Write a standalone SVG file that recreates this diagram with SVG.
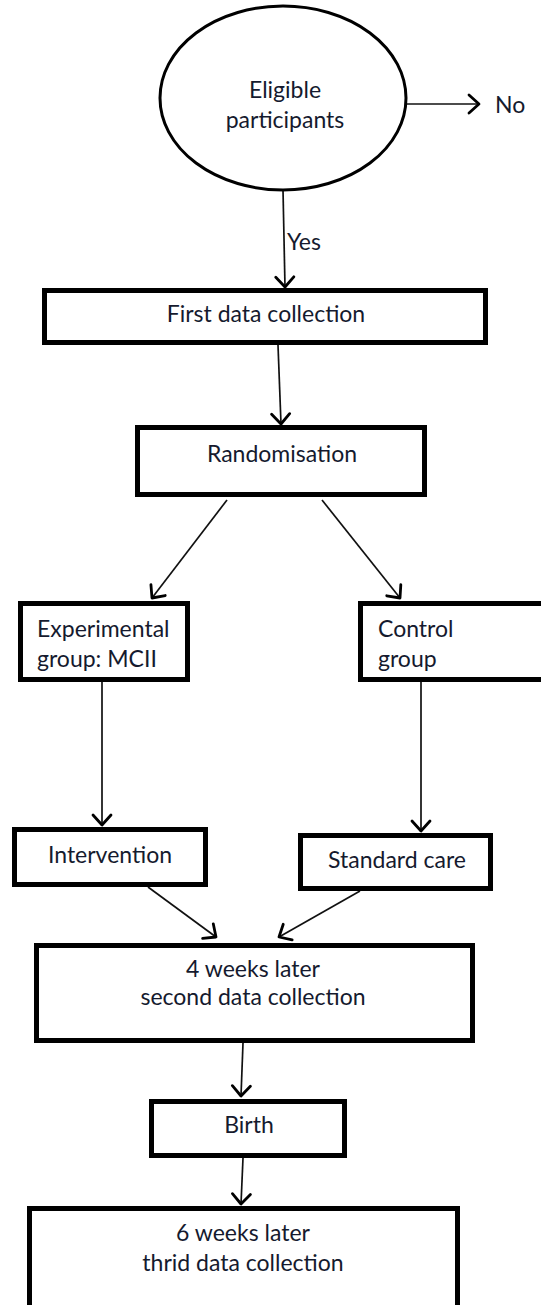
<svg xmlns="http://www.w3.org/2000/svg" width="541" height="1305" viewBox="0 0 541 1305">
<defs>
<style>
.box{fill:#fff;stroke:#000;stroke-width:5}
.ell{fill:#fff;stroke:#000;stroke-width:3}
.t{font-family:Lato,"Open Sans","Liberation Sans",sans-serif;font-size:23px;fill:#151a2e}
.c{text-anchor:middle}
.ln{stroke:#111;stroke-width:1.7;fill:none;marker-end:url(#ah)}
</style>
<marker id="ah" markerUnits="userSpaceOnUse" markerWidth="16" markerHeight="22" viewBox="-12 -11 14 22" refX="0" refY="0" orient="auto">
<path d="M-10,-9 L0,0 L-10,9" fill="none" stroke="#000" stroke-width="2.8" stroke-linecap="round" stroke-linejoin="round"/>
</marker>
</defs>
<rect width="541" height="1305" fill="#fff"/>
<g id="connectors">
<line class="ln" x1="407" y1="104" x2="479" y2="104"/>
<line class="ln" x1="283" y1="190" x2="285" y2="287"/>
<line class="ln" x1="278" y1="345" x2="281" y2="424"/>
<line class="ln" x1="227" y1="500" x2="152" y2="598"/>
<line class="ln" x1="322" y1="500" x2="400" y2="598"/>
<line class="ln" x1="102" y1="682" x2="102" y2="825"/>
<line class="ln" x1="421" y1="682" x2="421" y2="831"/>
<line class="ln" x1="148" y1="887" x2="216" y2="937"/>
<line class="ln" x1="360" y1="891" x2="279" y2="937"/>
<line class="ln" x1="243" y1="1043" x2="241" y2="1096"/>
<line class="ln" x1="243" y1="1158" x2="241" y2="1204"/>
</g>
<g id="eligible">
<ellipse class="ell" cx="283" cy="98" rx="123" ry="92"/>
<text class="t c" x="285" y="98">Eligible</text>
<text class="t c" x="285" y="128">participants</text>
</g>
<g id="no"><text class="t" x="495" y="113">No</text></g>
<g id="yes"><text class="t" x="287" y="250">Yes</text></g>
<g id="first">
<rect class="box" x="44.5" y="290.5" width="441" height="52"/>
<text class="t c" x="266" y="322">First data collection</text>
</g>
<g id="random">
<rect class="box" x="137.5" y="427.5" width="287" height="67"/>
<text class="t c" x="282" y="462">Randomisation</text>
</g>
<g id="experimental">
<rect class="box" x="20.5" y="603.5" width="167" height="76"/>
<text class="t" x="37" y="637">Experimental</text>
<text class="t" x="37" y="667">group: MCII</text>
</g>
<g id="control">
<rect class="box" x="360.5" y="603.5" width="200" height="76"/>
<text class="t" x="378" y="637">Control</text>
<text class="t" x="378" y="667">group</text>
</g>
<g id="intervention">
<rect class="box" x="14.5" y="829.5" width="191" height="55"/>
<text class="t c" x="110" y="863">Intervention</text>
</g>
<g id="standard">
<rect class="box" x="300.5" y="835.5" width="190" height="53"/>
<text class="t c" x="397" y="868">Standard care</text>
</g>
<g id="second">
<rect class="box" x="36.5" y="945.5" width="436" height="95"/>
<text class="t c" x="253" y="977">4 weeks later</text>
<text class="t c" x="253" y="1005">second data collection</text>
</g>
<g id="birth">
<rect class="box" x="151.5" y="1101.5" width="193" height="54"/>
<text class="t c" x="249" y="1133">Birth</text>
</g>
<g id="third">
<rect class="box" x="29.5" y="1208.5" width="428" height="120"/>
<text class="t c" x="243" y="1241">6 weeks later</text>
<text class="t c" x="243" y="1271">thrid data collection</text>
</g>
</svg>
